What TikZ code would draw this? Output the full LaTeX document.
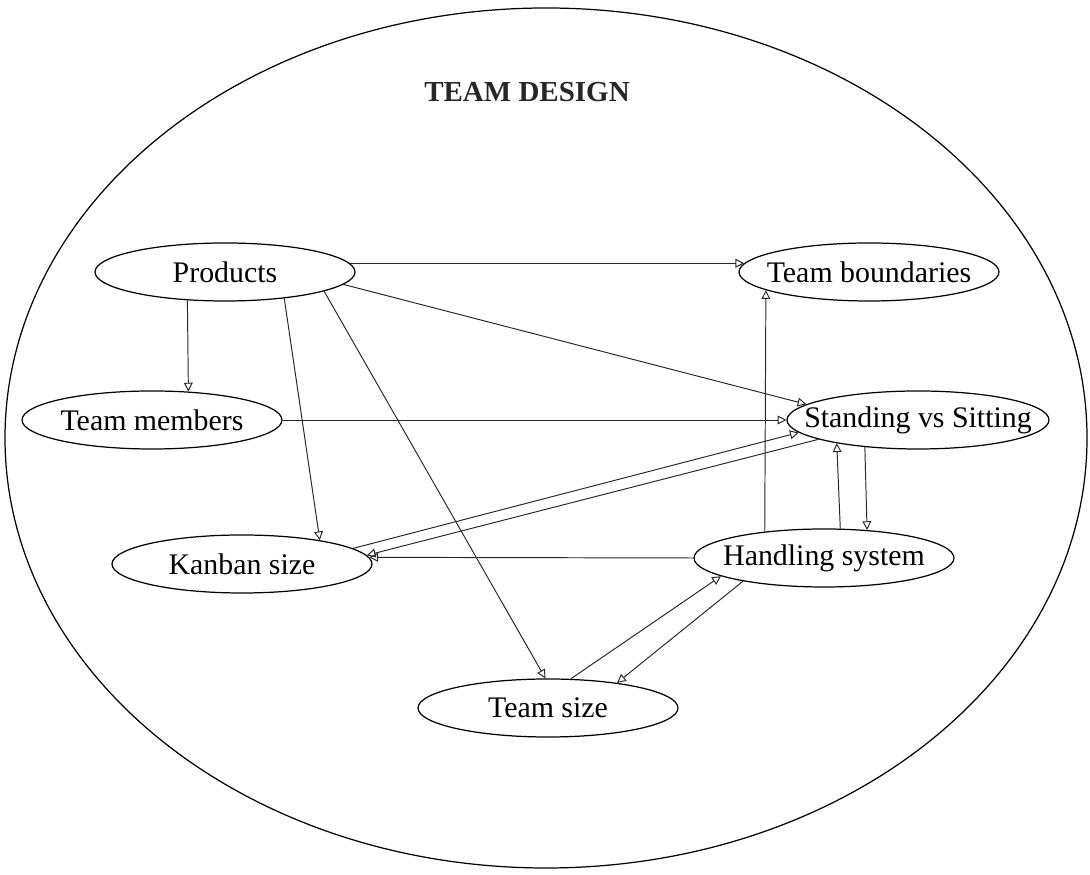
\documentclass[tikz,border=0pt]{standalone}
\usepackage{fontspec}
\setmainfont{Liberation Serif}
\usetikzlibrary{shapes.geometric}
\usetikzlibrary{arrows.meta}

\begin{document}
\begin{tikzpicture}[
	factor/.style={ellipse,draw,line width=0.7pt,minimum width=5.2cm,minimum height=1.16cm,inner xsep=-12pt,inner ysep=0pt,font=\fontsize{17}{20}\selectfont},
	link/.style={line width=0.55pt,draw=black!85,-{Triangle[open,length=5pt,width=5pt]}}]
	\useasboundingbox (0,0) rectangle (21.8,17.5);
	\draw[line width=0.7pt] (10.92,8.74) ellipse [x radius=10.82cm, y radius=8.6cm];
	\node[font=\fontsize{16.5}{20}\selectfont\bfseries,text=black!85] (title) at (10.54,15.66) {TEAM DESIGN};

	\node[factor] (prod) at (4.5,12.06) {Products};
	\node[factor] (bound) at (17.38,12.06) {Team boundaries};
	\node[factor] (memb) at (3.04,9.1) {Team members};
	\node[factor] (stand) at (18.36,9.1) {Standing vs Sitting};
	\node[factor] (kanb) at (4.84,6.22) {Kanban size};
	\node[factor] (handl) at (16.48,6.34) {Handling system};
	\node[factor] (tsize) at (10.96,3.34) {Team size};

	\draw[link] (prod.4) -- (bound.176);
	\draw[link] (prod.217) -- (memb.38);
	\draw[link] (prod.-6) -- (stand.172);
	\draw[link] (prod.-24) -- (kanb.17);
	\draw[link] (prod.-11) -- (tsize.95);
	\draw[link] (memb.0) -- (stand.180);
	\draw[link] (kanb.8) -- (stand.186);
	\draw[link] (stand.191) -- (kanb.4);
	\draw[link] (handl.180) -- (kanb.3);
	\draw[link] (handl.156) -- (bound.190);
	\draw[link] (handl.61) -- (stand.196);
	\draw[link] (stand.207) -- (handl.33);
	\draw[link] (tsize.52) -- (handl.190);
	\draw[link] (handl.196) -- (tsize.20);
\end{tikzpicture}
\end{document}
